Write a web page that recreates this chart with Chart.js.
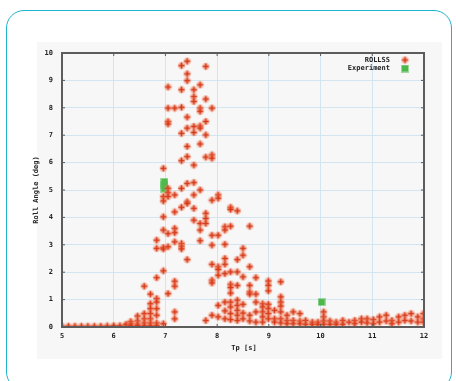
<!DOCTYPE html>
<html>
<head>
<meta charset="utf-8">
<script src="https://cdn.jsdelivr.net/npm/chart.js@4.4.0/dist/chart.umd.min.js"></script>
<style>
  html, body { margin: 0; padding: 0; background: #ffffff; }
  #wrap { position: relative; width: 456px; height: 381px; overflow: hidden; }
  #card {
    position: absolute; left: 6px; top: 10px; width: 446px; height: 380px;
    border: 1.6px solid #1fb2cc; border-radius: 18px; box-sizing: border-box;
  }
  #panel { position: absolute; left: 37px; top: 42px; width: 405px; height: 317px; background: #f7f7f7; }
  #chart { position: absolute; left: 0; top: 0; }
</style>
</head>
<body>
<div id="wrap">
  <div id="card"></div>
  <div id="panel"></div>
  <canvas id="chart" width="456" height="381"></canvas>
</div>
<script>
// Simulated roll response (ROLLSS): wave period Tp [s] and roll angle [deg]
const rollTp = [
  5.0, 5.125, 5.25, 5.375, 5.5, 5.625, 5.75, 5.875, 6.0,
  6.12,
  6.24, 6.24,
  6.33, 6.33, 6.33,
  6.46, 6.46, 6.46, 6.46,
  6.59, 6.59, 6.59, 6.59, 6.59,
  6.71, 6.71, 6.71, 6.71, 6.71, 6.71, 6.71,
  6.83, 6.83, 6.83, 6.83, 6.83, 6.83, 6.83, 6.83, 6.83,
  6.96, 6.96, 6.96, 6.96, 6.96, 6.96, 6.96, 6.96, 6.96,
  7.05, 7.05, 7.05, 7.05, 7.05, 7.05, 7.05, 7.05, 7.05, 7.05,
  7.18, 7.18, 7.18, 7.18, 7.18, 7.18, 7.18, 7.18, 7.18, 7.18,
  7.31, 7.31, 7.31, 7.31, 7.31, 7.31, 7.31, 7.31, 7.31, 7.31,
  7.42, 7.42, 7.42, 7.42, 7.42, 7.42, 7.42, 7.42, 7.42, 7.42, 7.42,
  7.55, 7.55, 7.55, 7.55, 7.55, 7.55, 7.55, 7.55, 7.55, 7.55,
  7.67, 7.67, 7.67, 7.67, 7.67, 7.67, 7.67, 7.67, 7.67, 7.67,
  7.78, 7.78, 7.78, 7.78, 7.78, 7.78, 7.78, 7.78, 7.78,
  7.9, 7.9, 7.9, 7.9, 7.9, 7.9, 7.9, 7.9, 7.9, 7.9,
  8.02, 8.02, 8.02, 8.02, 8.02, 8.02, 8.02, 8.02,
  8.15, 8.15, 8.15, 8.15, 8.15, 8.15, 8.15, 8.15, 8.15,
  8.26, 8.26, 8.26, 8.26, 8.26, 8.26, 8.26, 8.26, 8.26, 8.26, 8.26,
  8.39, 8.39, 8.39, 8.39, 8.39, 8.39, 8.39, 8.39, 8.39,
  8.5, 8.5, 8.5, 8.5, 8.5, 8.5,
  8.63, 8.63, 8.63, 8.63, 8.63, 8.63, 8.63,
  8.75, 8.75, 8.75, 8.75, 8.75,
  8.88, 8.88, 8.88, 8.88, 8.88,
  8.99, 8.99, 8.99, 8.99, 8.99, 8.99, 8.99,
  9.11, 9.11, 9.11,
  9.23, 9.23, 9.23, 9.23, 9.23, 9.23, 9.23,
  9.35, 9.35, 9.35,
  9.47, 9.47, 9.47,
  9.6, 9.6, 9.6,
  9.71, 9.71,
  9.84, 9.84,
  9.95, 9.95,
  10.06, 10.06, 10.06, 10.06,
  10.18, 10.18,
  10.3, 10.3,
  10.43, 10.43,
  10.55,
  10.66, 10.66,
  10.79, 10.79,
  10.9, 10.9,
  11.02, 11.02,
  11.14, 11.14,
  11.27, 11.27,
  11.38, 11.38,
  11.51, 11.51,
  11.63, 11.63,
  11.75, 11.75,
  11.88, 11.88,
  11.99, 11.99, 11.99
];
const rollAngle = [
  0.03, 0.03, 0.03, 0.03, 0.03, 0.03, 0.03, 0.04, 0.05,
  0.05,
  0.05, 0.1,
  0.2, 0.12, 0.06,
  0.4, 0.22, 0.1, 0.05,
  1.49, 0.49, 0.3, 0.15, 0.05,
  1.2, 0.85, 0.67, 0.49, 0.3, 0.15, 0.05,
  3.17, 2.87, 1.8, 1.04, 0.91, 0.67, 0.43, 0.15, 0.05,
  5.79, 4.76, 4.6, 4.02, 3.54, 2.9, 2.85, 2.05, 0.12,
  8.76, 7.99, 7.5, 7.41, 5.06, 4.9, 4.76, 3.41, 2.93, 1.22,
  7.99, 4.82, 4.2, 3.6, 3.44, 3.11, 1.67, 1.49, 0.55, 0.3,
  9.54, 8.66, 8.02, 7.07, 6.07, 5.06, 4.37, 3.05, 2.95, 2.85,
  9.7, 9.24, 8.99, 7.66, 7.26, 6.59, 6.22, 5.24, 4.57, 4.51, 2.46,
  8.66, 8.41, 8.23, 7.32, 7.1, 5.91, 5.27, 4.82, 4.33, 3.9,
  8.84, 7.99, 7.87, 7.34, 7.26, 6.68, 5.0, 3.78, 3.54, 3.15,
  9.51, 8.32, 7.5, 7.01, 6.2, 4.15, 3.96, 3.78, 0.24,
  7.99, 6.28, 6.16, 4.63, 3.35, 2.99, 2.29, 1.71, 1.61, 0.43,
  4.82, 4.7, 3.35, 2.2, 2.1, 1.89, 0.79, 0.37,
  3.66, 3.54, 3.02, 2.5, 2.29, 1.95, 0.91, 0.59, 0.3,
  4.37, 4.29, 3.68, 2.01, 1.56, 1.44, 1.24, 0.91, 0.73, 0.49, 0.27,
  4.24, 2.46, 2.01, 1.52, 0.98, 0.79, 0.61, 0.43, 0.24,
  2.87, 2.62, 1.83, 0.83, 0.51, 0.3,
  3.68, 2.2, 1.52, 1.28, 1.2, 0.43, 0.22,
  1.8, 1.2, 0.91, 0.55, 0.18,
  0.85, 0.73, 0.55, 0.37, 0.18,
  1.68, 1.52, 1.32, 0.83, 0.67, 0.49, 0.3,
  0.61, 0.3, 0.18,
  1.65, 1.1, 0.91, 0.76, 0.55, 0.3, 0.15,
  0.43, 0.24, 0.12,
  0.55, 0.24, 0.12,
  0.49, 0.22, 0.12,
  0.24, 0.1,
  0.18, 0.1,
  0.18, 0.1,
  0.55, 0.37, 0.22, 0.1,
  0.22, 0.1,
  0.18, 0.1,
  0.24, 0.1,
  0.18,
  0.24, 0.12,
  0.3, 0.18,
  0.3, 0.15,
  0.27, 0.12,
  0.37, 0.18,
  0.43, 0.22,
  0.24, 0.12,
  0.37, 0.18,
  0.43, 0.24,
  0.49, 0.22,
  0.37, 0.18,
  0.49, 0.3, 0.18
];

// Model test measurements
const expTp = [6.98, 6.98, 6.98, 10.02];
const expAngle = [5.3, 5.18, 5.05, 0.91];

const xTicks = [5, 6, 7, 8, 9, 10, 11, 12];
const yTicks = [0, 1, 2, 3, 4, 5, 6, 7, 8, 9, 10];

const seriesLabels = ['ROLLSS', 'Experiment'];
const xTitle = 'Tp [s]';
const yTitle = 'Roll Angle (deg)';

// Marker sprites: a soft orange dot with a "+" and a small green square
function plusMarker() {
  const c = document.createElement('canvas');
  c.width = 9; c.height = 9;
  const g = c.getContext('2d');
  const grad = g.createRadialGradient(4.5, 4.5, 0, 4.5, 4.5, 4.5);
  grad.addColorStop(0, 'rgba(236,110,70,0.75)');
  grad.addColorStop(0.7, 'rgba(240,130,95,0.45)');
  grad.addColorStop(1, 'rgba(245,160,130,0)');
  g.fillStyle = grad;
  g.beginPath(); g.arc(4.5, 4.5, 4.5, 0, Math.PI * 2); g.fill();
  g.strokeStyle = '#d6391a';
  g.lineWidth = 1.6;
  g.beginPath();
  g.moveTo(1.5, 4.5); g.lineTo(7.5, 4.5);
  g.moveTo(4.5, 1.5); g.lineTo(4.5, 7.5);
  g.stroke();
  return c;
}
function squareMarker() {
  const c = document.createElement('canvas');
  c.width = 8; c.height = 8;
  const g = c.getContext('2d');
  g.fillStyle = 'rgba(90,190,90,0.55)';
  g.fillRect(0, 0, 8, 8);
  g.fillStyle = '#4cb84a';
  g.fillRect(1, 1, 6, 6);
  return c;
}
const rollSprite = plusMarker();
const expSprite = squareMarker();

const rollPoints = rollTp.map((x, i) => ({ x: x, y: rollAngle[i] }));
const expPoints = expTp.map((x, i) => ({ x: x, y: expAngle[i] }));

const FONT = '"DejaVu Sans Mono", monospace';

// Gnuplot-style frame, inward tick marks, axis titles and key
const framePlugin = {
  id: 'frame',
  afterDraw(chart) {
    const { ctx, chartArea: a, scales } = chart;
    ctx.save();
    ctx.strokeStyle = '#5a5a5a';
    ctx.lineWidth = 1;
    ctx.beginPath();
    xTicks.forEach(v => {
      const px = scales.x.getPixelForValue(v);
      ctx.moveTo(px, a.bottom); ctx.lineTo(px, a.bottom - 3);
      ctx.moveTo(px, a.top); ctx.lineTo(px, a.top + 3);
    });
    yTicks.forEach(v => {
      const py = scales.y.getPixelForValue(v);
      ctx.moveTo(a.left, py); ctx.lineTo(a.left + 3, py);
      ctx.moveTo(a.right, py); ctx.lineTo(a.right - 3, py);
    });
    ctx.stroke();
    ctx.lineWidth = 2;
    ctx.strokeStyle = '#5c5c5c';
    ctx.strokeRect(a.left, a.top, a.right - a.left, a.bottom - a.top);

    ctx.fillStyle = '#222';
    ctx.font = 'bold 7px ' + FONT;
    ctx.textAlign = 'center';
    ctx.textBaseline = 'middle';
    ctx.fillText(xTitle, (a.left + a.right) / 2 + 1, 348);
    ctx.save();
    ctx.translate(36, (a.top + a.bottom) / 2);
    ctx.rotate(-Math.PI / 2);
    ctx.fillText(yTitle, 0, 0);
    ctx.restore();

    // key
    ctx.textAlign = 'right';
    ctx.fillText(seriesLabels[0], 390, 60);
    ctx.fillText(seriesLabels[1], 390, 68.5);
    ctx.drawImage(rollSprite, 400.5, 55.5);
    ctx.drawImage(expSprite, 401, 64.5);
    ctx.restore();
  }
};

new Chart(document.getElementById('chart'), {
  type: 'scatter',
  data: {
    datasets: [
      {
        label: seriesLabels[0],
        data: rollPoints,
        pointStyle: rollSprite,
        pointRadius: 4,
        pointHoverRadius: 4
      },
      {
        label: seriesLabels[1],
        data: expPoints,
        pointStyle: expSprite,
        pointRadius: 4,
        pointHoverRadius: 4
      }
    ]
  },
  options: {
    responsive: false,
    devicePixelRatio: 1,
    animation: false,
    events: [],
    layout: { padding: { left: 0, right: 32, top: 53, bottom: 24 } },
    plugins: { legend: { display: false }, tooltip: { enabled: false } },
    scales: {
      x: {
        type: 'linear', min: 5, max: 12,
        afterFit(s) { s.height = 30; },
        afterBuildTicks(s) { s.ticks = xTicks.map(v => ({ value: v })); },
        ticks: { color: '#222', font: { family: FONT, size: 7, weight: 'bold' }, padding: 5, maxRotation: 0 },
        grid: { color: '#d3e5f1', lineWidth: 1, drawTicks: false },
        border: { display: false }
      },
      y: {
        type: 'linear', min: 0, max: 10,
        afterFit(s) { s.width = 62; },
        afterBuildTicks(s) { s.ticks = yTicks.map(v => ({ value: v })); },
        ticks: { color: '#222', font: { family: FONT, size: 7, weight: 'bold' }, padding: 9 },
        grid: { color: '#d3e5f1', lineWidth: 1, drawTicks: false },
        border: { display: false }
      }
    }
  },
  plugins: [framePlugin]
});
</script>
</body>
</html>
